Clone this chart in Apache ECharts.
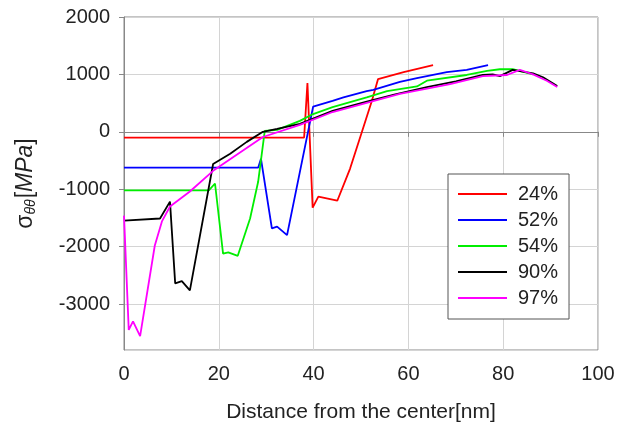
<!DOCTYPE html>
<html><head><meta charset="utf-8">
<script src="https://cdn.jsdelivr.net/npm/echarts@6/dist/echarts.min.js"></script>
<style>html,body{margin:0;padding:0;background:#fff}#c{width:619px;height:428px}</style>
</head><body><div id="c"></div>
<script>
const seriesNames = ['24%', '52%', '54%', '90%', '97%'];
const seriesColors = ['#ff0000', '#0000ff', '#00ee00', '#000000', '#ff00ff'];
const xTicks = [0, 20, 40, 60, 80, 100];
const yTicks = [-3000, -2000, -1000, 0, 1000, 2000];

const red24 = [[0,-100],[38,-100],[38.7,850],[39.8,-1320],[41,-1130],[45,-1200],[47.7,-640],[50.2,0],[52.3,540],[53.6,920],[59,1040],[65.2,1160]];
const blue52 = [[0,-625],[28.3,-625],[28.9,-470],[31.2,-1680],[32.3,-1650],[34.4,-1800],[39.9,440],[44,540],[46.3,600],[51.2,710],[52.6,730],[58.2,870],[61.8,935],[68.1,1040],[72.3,1080],[76.8,1160]];
const green54 = [[0,-1020],[17.9,-1020],[19.2,-900],[20.9,-2120],[22,-2100],[24,-2160],[26.6,-1510],[28.3,-870],[29.7,17],[32.3,35],[37.1,190],[39.9,310],[44,430],[51.2,600],[55.5,710],[61.8,790],[63.9,890],[72.3,990],[76.6,1060],[79.3,1090],[82,1090],[86.3,1000]];
const black90 = [[0,-1545],[7.6,-1510],[9.7,-1215],[10.8,-2640],[12.2,-2600],[13.9,-2760],[18.8,-560],[22.4,-380],[25.9,-175],[29.3,0],[32.3,50],[37.1,140],[44,365],[51,520],[57,650],[63.9,780],[70,880],[75.7,990],[77.8,1000],[79.3,970],[82,1080],[86.3,1020],[88.4,950],[91.4,800]];
const magenta97 = [[0,-1460],[1,-3450],[1.9,-3300],[3.4,-3560],[6.5,-1980],[8,-1560],[9.7,-1300],[13.9,-1040],[18.8,-680],[29.3,-90],[37.1,120],[44,345],[51,500],[58.2,660],[68.8,830],[75.7,970],[80.8,990],[83.5,1080],[86.3,1000],[89.2,890],[91.4,780]];
const allData = [red24, blue52, green54, black90, magenta97];

const chart = echarts.init(document.getElementById('c'));
const FONT = '"Liberation Sans", Arial, sans-serif';
chart.setOption({
  animation: false,
  backgroundColor: '#fff',
  grid: { left: 124, right: 21, top: 17, bottom: 77, show: true, borderColor: '#888', borderWidth: 1 },
  legend: {
    orient: 'vertical', left: 448, top: 174,
    data: seriesNames, icon: 'rect', itemWidth: 49, itemHeight: 2, itemGap: 6,
    padding: [10, 11, 11, 10],
    borderColor: '#555', borderWidth: 1, backgroundColor: '#fff',
    textStyle: { fontFamily: FONT, fontSize: 20, color: '#222', lineHeight: 20, padding: [0, 0, 0, 6] }
  },
  xAxis: {
    type: 'value', min: xTicks[0], max: xTicks[xTicks.length - 1], interval: 20,
    name: 'Distance from the center[nm]', nameLocation: 'middle', nameGap: 52,
    nameTextStyle: { fontFamily: FONT, fontSize: 21, color: '#222' },
    axisLine: { show: true, lineStyle: { color: '#888' } },
    axisTick: { show: true, inside: false, length: 5, lineStyle: { color: '#888' } },
    axisLabel: { fontFamily: FONT, fontSize: 20, color: '#222', margin: 14 },
    splitLine: { show: true, lineStyle: { color: '#d4d4d4' } }
  },
  yAxis: {
    type: 'value', min: -3800, max: yTicks[yTicks.length - 1], splitNumber: 5,
    name: '{s|σ}{sub|θθ}{s|[}{i|MPa}{s|]}', nameLocation: 'middle', nameRotate: 90, nameGap: 86,
    nameTextStyle: {
      fontFamily: FONT, color: '#222',
      rich: {
        s: { fontFamily: FONT, fontSize: 23, color: '#222' },
        i: { fontFamily: FONT, fontSize: 23, fontStyle: 'italic', color: '#222' },
        sub: { fontFamily: FONT, fontSize: 14, fontStyle: 'italic', color: '#222', verticalAlign: 'bottom', padding: [10, 1, 0, 0] }
      }
    },
    axisLine: { show: true, lineStyle: { color: '#888' } },
    axisTick: { show: true, inside: false, length: 5, lineStyle: { color: '#888' } },
    axisLabel: { fontFamily: FONT, fontSize: 20, color: '#222', margin: 14, showMinLabel: false, formatter: v => String(v) },
    splitLine: { show: true, lineStyle: { color: '#d4d4d4' } }
  },
  series: seriesNames.map((n, i) => ({
    name: n, type: 'line', data: allData[i], showSymbol: false, symbol: 'none',
    itemStyle: { color: seriesColors[i] },
    lineStyle: { color: seriesColors[i], width: 1.8 }
  }))
});
</script></body></html>
